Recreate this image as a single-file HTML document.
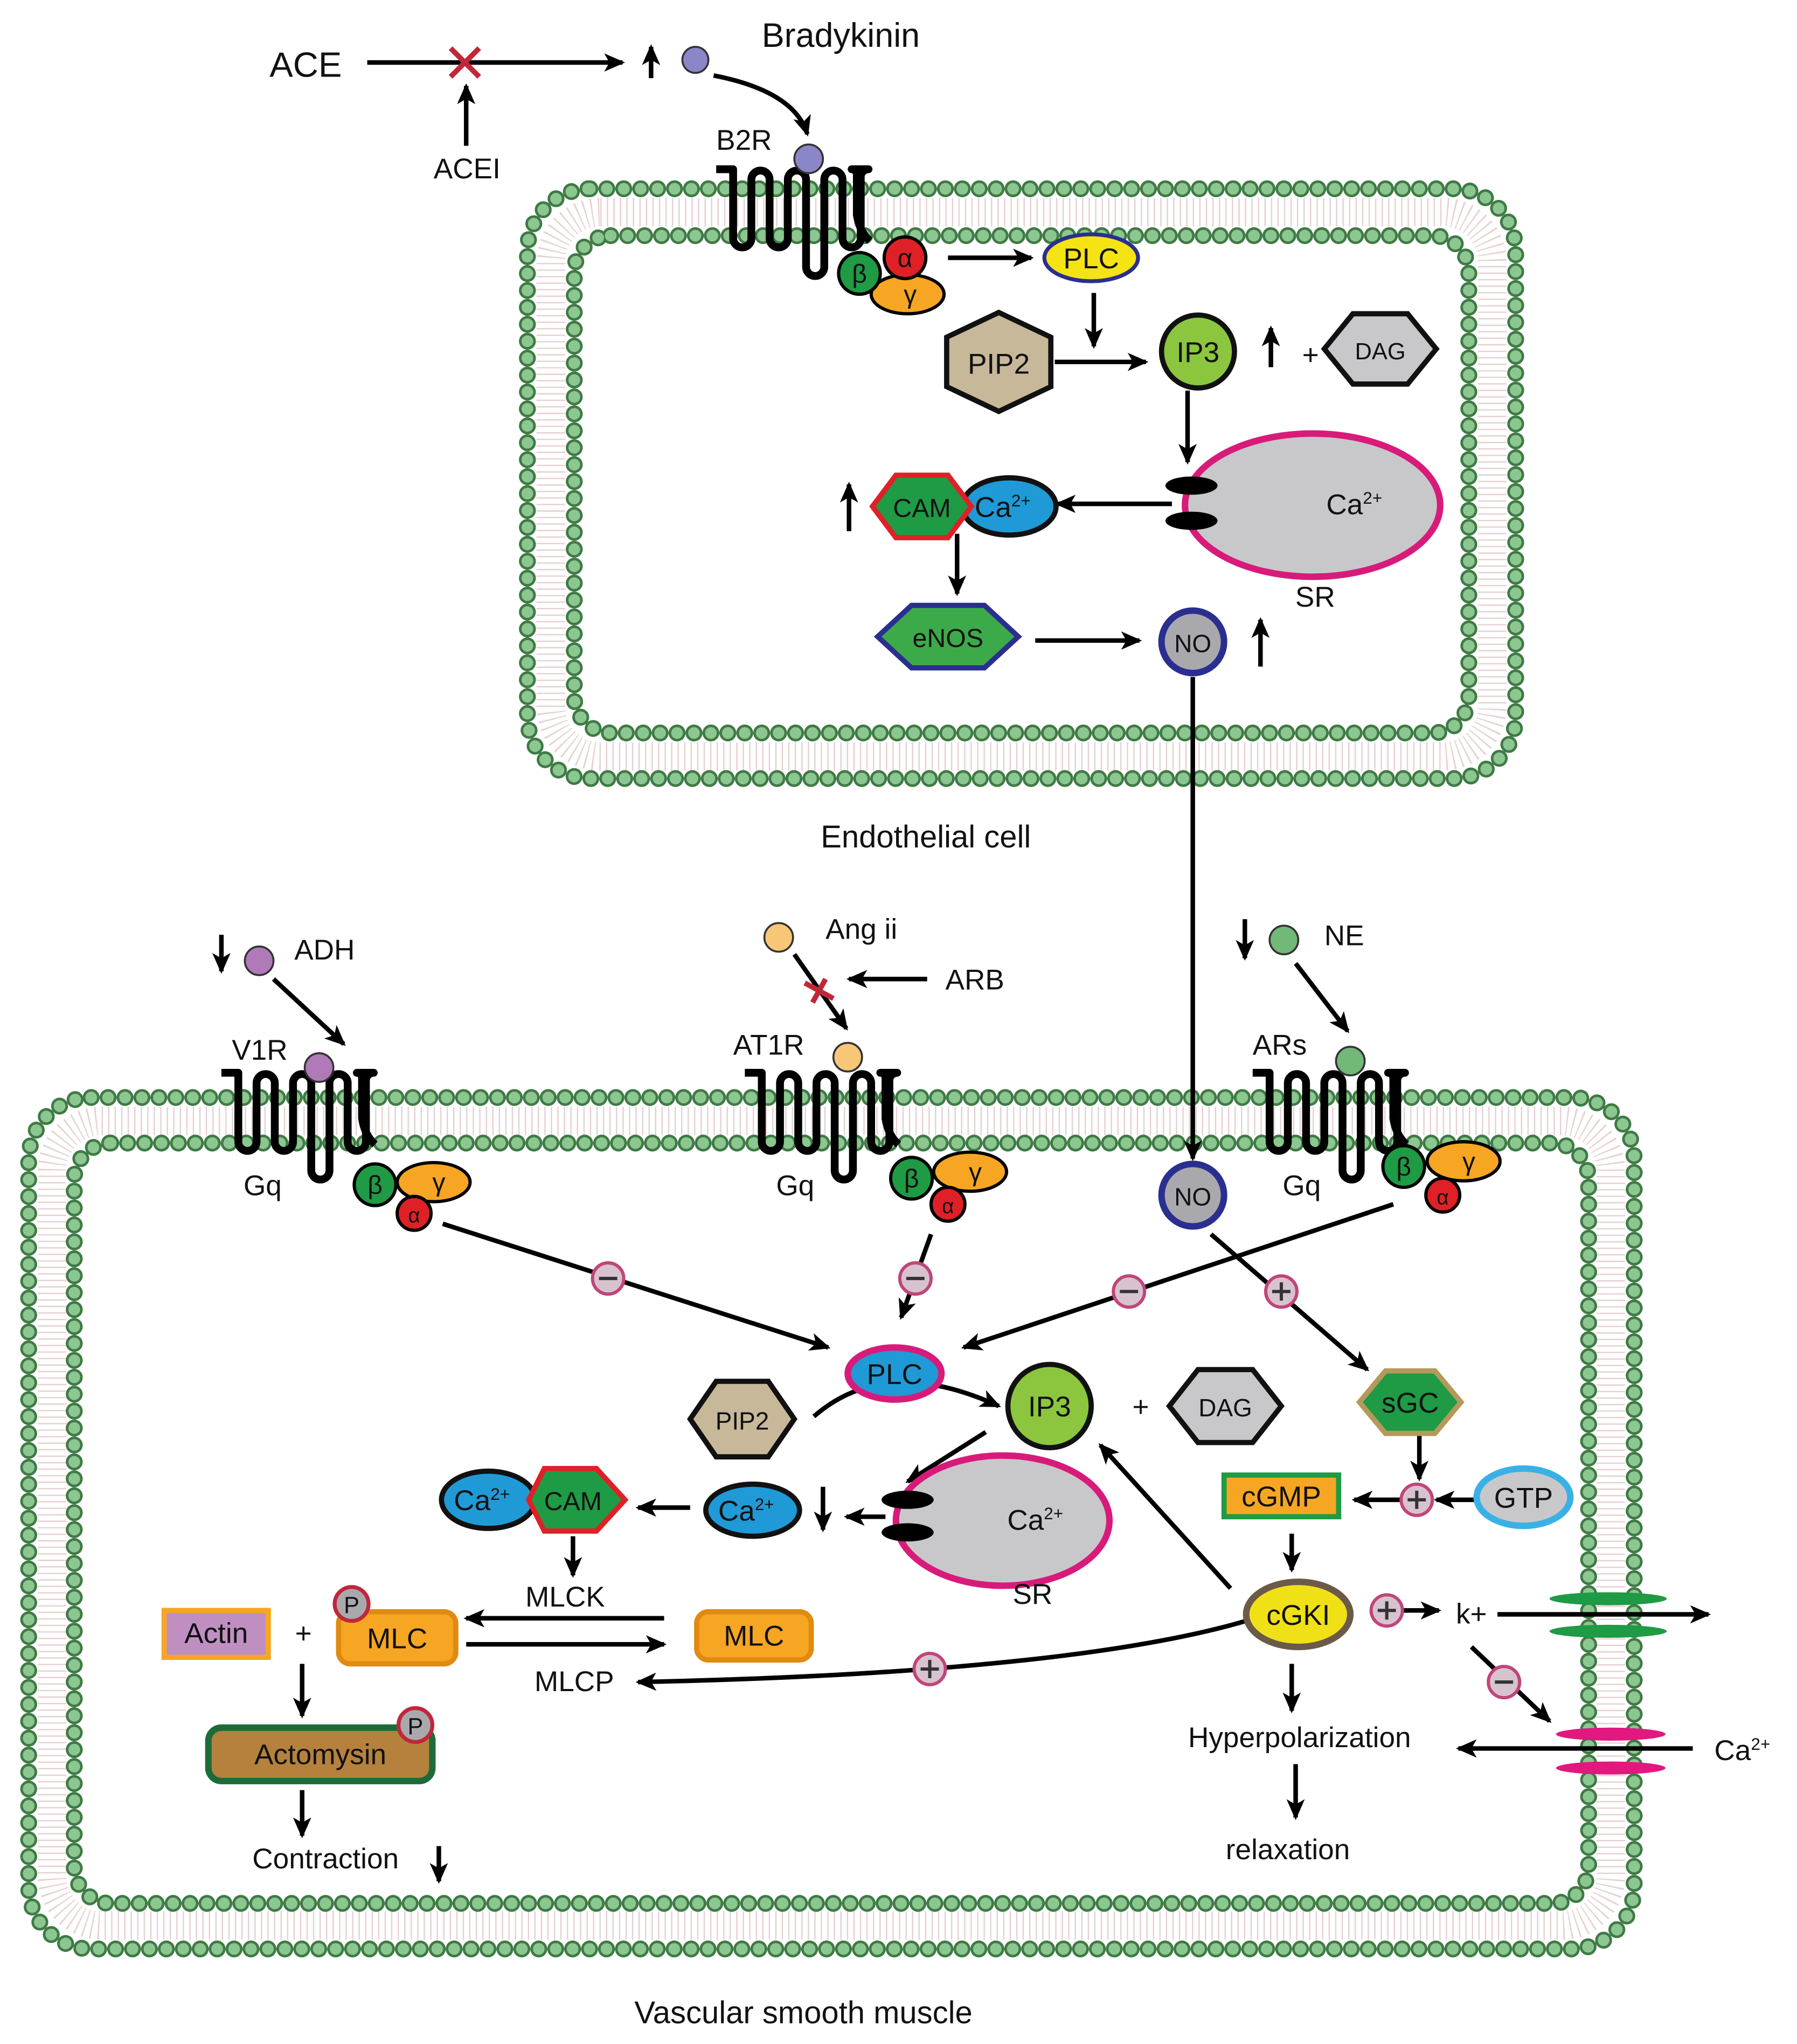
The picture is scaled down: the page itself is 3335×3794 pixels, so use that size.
<!DOCTYPE html>
<html><head><meta charset="utf-8"><style>html,body{margin:0;padding:0;background:#fff}svg{display:block}text{font-family:"Liberation Sans",sans-serif;fill:#111}</style></head><body>
<svg width="3335" height="3794" viewBox="0 0 1380 1570" xmlns="http://www.w3.org/2000/svg">
<defs>
<marker id="a" markerUnits="userSpaceOnUse" markerWidth="16" markerHeight="14" refX="14" refY="7" orient="auto"><path d="M0,0 L16,7 L0,14 L4,7 Z" fill="#000"/></marker>
</defs>
<rect width="1380" height="1570" fill="#fff"/>
<g fill="none">
<rect x="423" y="163" width="723" height="418" rx="38" stroke="#e6d0d0" stroke-width="22" stroke-dasharray="1 4"/>
<rect x="405" y="145" width="759" height="453" rx="48" stroke="#3f7a45" stroke-width="13" stroke-dasharray="0 13" stroke-linecap="round"/>
<rect x="405" y="145" width="759" height="453" rx="48" stroke="#8cc690" stroke-width="9" stroke-dasharray="0 13" stroke-linecap="round"/>
<rect x="441" y="181" width="687" height="382" rx="28" stroke="#3f7a45" stroke-width="13" stroke-dasharray="0 13" stroke-linecap="round"/>
<rect x="441" y="181" width="687" height="382" rx="28" stroke="#8cc690" stroke-width="9" stroke-dasharray="0 13" stroke-linecap="round"/>
<rect x="40" y="861" width="1197" height="618" rx="38" stroke="#e6d0d0" stroke-width="22" stroke-dasharray="1 4"/>
<rect x="22" y="843" width="1233" height="654" rx="48" stroke="#3f7a45" stroke-width="13" stroke-dasharray="0 13" stroke-linecap="round"/>
<rect x="22" y="843" width="1233" height="654" rx="48" stroke="#8cc690" stroke-width="9" stroke-dasharray="0 13" stroke-linecap="round"/>
<rect x="57" y="878" width="1163" height="584" rx="28" stroke="#3f7a45" stroke-width="13" stroke-dasharray="0 13" stroke-linecap="round"/>
<rect x="57" y="878" width="1163" height="584" rx="28" stroke="#8cc690" stroke-width="9" stroke-dasharray="0 13" stroke-linecap="round"/>
</g>
<g id="rec" fill="none" stroke="#000" stroke-width="6" stroke-linejoin="round">
<path d="M550,130 H563 V183 a7,7 0 0 0 14,0 V138 a7,7 0 0 1 14,0 V183 a7,7 0 0 0 14,0 V138 a7,7 0 0 1 14,0 V205 a7,7 0 0 0 14,0 V138 a7,7 0 0 1 14,0 V183 a7,7 0 0 0 14,0 V136 a6,6 0 0 1 6,-6 H654 a4,4 0 0 1 4,4 V165 Q660,178 668,185"/>
</g>
<use href="#rec" transform="translate(-380,694)"/>
<use href="#rec" transform="translate(22,694)"/>
<use href="#rec" transform="translate(412,694)"/>
<g stroke="#000" stroke-width="3.5" fill="none" marker-end="url(#a)">
<line x1="282" y1="48" x2="478" y2="48"/>
<line x1="358" y1="112" x2="358" y2="66"/>
<line x1="500" y1="60" x2="500" y2="36"/>
<path d="M548,58 Q610,70 620,103"/>
<line x1="728" y1="198" x2="792" y2="198"/>
<line x1="840" y1="225" x2="840" y2="266"/>
<line x1="810" y1="278" x2="880" y2="278"/>
<line x1="976" y1="282" x2="976" y2="252"/>
<line x1="912" y1="300" x2="912" y2="355"/>
<line x1="900" y1="387" x2="812" y2="387"/>
<line x1="652" y1="408" x2="652" y2="372"/>
<line x1="735" y1="410" x2="735" y2="456"/>
<line x1="795" y1="492" x2="875" y2="492"/>
<line x1="968" y1="512" x2="968" y2="476"/>
<line x1="916" y1="520" x2="916" y2="890"/>
<line x1="170" y1="718" x2="170" y2="746"/>
<line x1="210" y1="752" x2="264" y2="802"/>
<line x1="610" y1="733" x2="650" y2="790"/>
<line x1="712" y1="752" x2="652" y2="752"/>
<line x1="956" y1="706" x2="956" y2="736"/>
<line x1="995" y1="740" x2="1035" y2="792"/>
<line x1="340" y1="940" x2="636" y2="1035"/>
<line x1="715" y1="948" x2="692" y2="1012"/>
<line x1="1070" y1="925" x2="740" y2="1035"/>
<line x1="930" y1="948" x2="1050" y2="1052"/>
<path d="M625,1088 Q680,1040 767,1080"/>
<line x1="757" y1="1100" x2="697" y2="1138"/>
<line x1="680" y1="1165" x2="650" y2="1165"/>
<line x1="632" y1="1142" x2="632" y2="1175"/>
<line x1="530" y1="1158" x2="490" y2="1158"/>
<line x1="440" y1="1180" x2="440" y2="1210"/>
<line x1="510" y1="1243" x2="358" y2="1243"/>
<line x1="358" y1="1263" x2="510" y2="1263"/>
<line x1="232" y1="1278" x2="232" y2="1318"/>
<line x1="232" y1="1375" x2="232" y2="1410"/>
<line x1="337" y1="1418" x2="337" y2="1445"/>
<line x1="1090" y1="1100" x2="1090" y2="1136"/>
<line x1="1132" y1="1152" x2="1103" y2="1152"/>
<line x1="1075" y1="1152" x2="1040" y2="1152"/>
<line x1="992" y1="1178" x2="992" y2="1206"/>
<line x1="945" y1="1220" x2="845" y2="1110"/>
<path d="M957,1245 Q820,1285 490,1292"/>
<line x1="1077" y1="1237" x2="1105" y2="1237"/>
<line x1="1150" y1="1240" x2="1312" y2="1240"/>
<line x1="1130" y1="1265" x2="1190" y2="1322"/>
<line x1="1300" y1="1343" x2="1120" y2="1343"/>
<line x1="992" y1="1278" x2="992" y2="1314"/>
<line x1="995" y1="1355" x2="995" y2="1396"/>
</g>
<g stroke="#000" stroke-width="3.5"><line x1="935" y1="387" x2="1005" y2="387"/><line x1="720" y1="1165" x2="775" y2="1165"/></g>
<g stroke="#c0273a" stroke-width="4"><line x1="346" y1="37" x2="368" y2="59"/><line x1="368" y1="37" x2="346" y2="59"/><line x1="618" y1="755" x2="640" y2="767"/><line x1="624" y1="770" x2="634" y2="752"/></g>
<g stroke="#333" stroke-width="1.5">
<circle cx="534" cy="46" r="10" fill="#8b86c8"/><circle cx="621" cy="122" r="11" fill="#8b86c8"/>
<circle cx="199" cy="738" r="11" fill="#b07ab8"/><circle cx="245" cy="820" r="11" fill="#b07ab8"/>
<circle cx="598" cy="720" r="11" fill="#f7c777"/><circle cx="651" cy="812" r="11" fill="#f7c777"/>
<circle cx="986" cy="722" r="11" fill="#72b878"/><circle cx="1037" cy="815" r="11" fill="#72b878"/>
</g>
<g stroke="#000" stroke-width="2.5" font-size="22">
<ellipse cx="697" cy="226" rx="28" ry="15" fill="#f6a623"/><circle cx="660" cy="210" r="16" fill="#1f9a45"/><circle cx="695" cy="198" r="16" fill="#e02027"/>
<ellipse cx="333" cy="908" rx="28" ry="15" fill="#f6a623"/><circle cx="318" cy="932" r="13" fill="#e02027"/><circle cx="288" cy="910" r="16" fill="#1f9a45"/>
<ellipse cx="745" cy="900" rx="28" ry="15" fill="#f6a623"/><circle cx="728" cy="925" r="13" fill="#e02027"/><circle cx="700" cy="905" r="16" fill="#1f9a45"/>
<ellipse cx="1124" cy="892" rx="28" ry="15" fill="#f6a623"/><circle cx="1108" cy="918" r="13" fill="#e02027"/><circle cx="1078" cy="896" r="16" fill="#1f9a45"/>
</g>
<g font-size="20" text-anchor="middle">
<text x="660" y="217">β</text><text x="695" y="205">α</text><text x="699" y="233">γ</text>
<text x="288" y="917">β</text><text x="318" y="939" font-size="16">α</text><text x="337" y="915">γ</text>
<text x="700" y="912">β</text><text x="728" y="932" font-size="16">α</text><text x="749" y="907">γ</text>
<text x="1078" y="903">β</text><text x="1108" y="925" font-size="16">α</text><text x="1128" y="899">γ</text>
</g>
<g stroke-width="4">
<ellipse cx="838" cy="198" rx="36" ry="18" fill="#f5e313" stroke="#2a2f8f" stroke-width="3"/>
<polygon points="767,240 807,259 807,297 767,316 727,297 727,259" fill="#c8b89a" stroke="#111"/>
<circle cx="920" cy="270" r="28" fill="#8cc63f" stroke="#111"/>
<polygon points="1039,241 1081,241 1103,268 1081,295 1039,295 1017,268" fill="#c8c8cb" stroke="#111"/>
<ellipse cx="1008" cy="388" rx="98" ry="55" fill="#c8c8cb" stroke="#d81b7a" stroke-width="5"/>
<ellipse cx="915" cy="373" rx="20" ry="7" fill="#000"/><ellipse cx="915" cy="400" rx="20" ry="7" fill="#000"/>
<ellipse cx="775" cy="389" rx="36" ry="22" fill="#1f9ad6" stroke="#111"/>
<polygon points="688,365 728,365 746,389 728,413 688,413 670,389" fill="#1f9a45" stroke="#e02027"/>
<polygon points="700,465 756,465 782,489 756,513 700,513 674,489" fill="#3daa4a" stroke="#2a2f8f"/>
<circle cx="916" cy="493" r="24" fill="#a9a9ad" stroke="#2a2f8f" stroke-width="5"/>
</g>
<g font-size="22" text-anchor="middle">
<text x="838" y="206">PLC</text><text x="767" y="287">PIP2</text><text x="920" y="278">IP3</text><text x="1060" y="276" font-size="18">DAG</text>
<text x="708" y="397" font-size="20">CAM</text><text x="770" y="397">Ca<tspan font-size="13" dy="-8">2+</tspan></text>
<text x="728" y="497" font-size="20" fill="#fff">eNOS</text><text x="916" y="501" font-size="19">NO</text>
<text x="1040" y="395">Ca<tspan font-size="13" dy="-8">2+</tspan></text><text x="1010" y="466">SR</text>
</g>
<g stroke-width="4">
<circle cx="916" cy="918" r="24" fill="#a9a9ad" stroke="#2a2f8f" stroke-width="5"/>
<ellipse cx="687" cy="1055" rx="36" ry="20" fill="#1f9ad6" stroke="#d81b7a" stroke-width="5"/>
<polygon points="550,1061 590,1061 610,1090 590,1119 550,1119 530,1090" fill="#c8b89a" stroke="#111"/>
<circle cx="806" cy="1080" r="32" fill="#8cc63f" stroke="#111"/>
<polygon points="920,1052 962,1052 984,1080 962,1108 920,1108 898,1080" fill="#c8c8cb" stroke="#111"/>
<polygon points="1064,1053 1102,1053 1122,1077 1102,1101 1064,1101 1044,1077" fill="#1f9a45" stroke="#b5995a"/>
<ellipse cx="1170" cy="1150" rx="36" ry="22" fill="#c8c8cb" stroke="#3ab1e6" stroke-width="5"/>
<rect x="940" y="1133" width="88" height="32" fill="#f6a623" stroke="#1f9a45"/>
<ellipse cx="997" cy="1240" rx="40" ry="25" fill="#f0e117" stroke="#6b5a48" stroke-width="5"/>
<ellipse cx="1235" cy="1228" rx="45" ry="5" fill="#1f9a45" stroke="none"/><ellipse cx="1235" cy="1253" rx="45" ry="5" fill="#1f9a45" stroke="none"/>
<ellipse cx="1237" cy="1332" rx="42" ry="5" fill="#e2187e" stroke="none"/><ellipse cx="1237" cy="1358" rx="42" ry="5" fill="#e2187e" stroke="none"/>
<ellipse cx="770" cy="1168" rx="82" ry="50" fill="#c8c8cb" stroke="#d81b7a" stroke-width="5"/>
<ellipse cx="697" cy="1152" rx="20" ry="7" fill="#000"/><ellipse cx="697" cy="1177" rx="20" ry="7" fill="#000"/>
<ellipse cx="578" cy="1160" rx="36" ry="20" fill="#1f9ad6" stroke="#111"/>
<ellipse cx="375" cy="1152" rx="36" ry="22" fill="#1f9ad6" stroke="#111"/>
<polygon points="418,1128 458,1128 480,1152 458,1176 418,1176 406,1152" fill="#1f9a45" stroke="#e02027"/>
<rect x="535" y="1238" width="88" height="37" rx="9" fill="#f6a623" stroke="#e08a10"/>
<rect x="260" y="1238" width="90" height="40" rx="9" fill="#f6a623" stroke="#e08a10"/>
<rect x="126" y="1237" width="80" height="36" fill="#c08fc2" stroke="#f6a623"/>
<rect x="160" y="1327" width="172" height="41" rx="10" fill="#b5813d" stroke="#1d6b3a" stroke-width="5"/>
<circle cx="270" cy="1232" r="13" fill="#a9a9ad" stroke="#c0273a" stroke-width="3"/>
<circle cx="319" cy="1325" r="13" fill="#a9a9ad" stroke="#c0273a" stroke-width="3"/>
</g>
<g fill="#d7c3cf" stroke="#c0457a" stroke-width="2.5">
<circle cx="467" cy="982" r="12"/><circle cx="703" cy="982" r="12"/><circle cx="867" cy="992" r="12"/><circle cx="984" cy="992" r="12"/>
<circle cx="1088" cy="1152" r="12"/><circle cx="1065" cy="1237" r="12"/><circle cx="1155" cy="1292" r="12"/><circle cx="714" cy="1282" r="12"/>
</g>
<g stroke="#333" stroke-width="2.5">
<line x1="460" y1="982" x2="474" y2="982"/><line x1="696" y1="982" x2="710" y2="982"/><line x1="860" y1="992" x2="874" y2="992"/><line x1="1148" y1="1292" x2="1162" y2="1292"/>
<line x1="977" y1="992" x2="991" y2="992"/><line x1="984" y1="985" x2="984" y2="999"/>
<line x1="1081" y1="1152" x2="1095" y2="1152"/><line x1="1088" y1="1145" x2="1088" y2="1159"/>
<line x1="1058" y1="1237" x2="1072" y2="1237"/><line x1="1065" y1="1230" x2="1065" y2="1244"/>
<line x1="707" y1="1282" x2="721" y2="1282"/><line x1="714" y1="1275" x2="714" y2="1289"/>
</g>
<g font-size="22" text-anchor="middle">
<text x="916" y="926" font-size="19">NO</text><text x="687" y="1063">PLC</text><text x="570" y="1098" font-size="19">PIP2</text>
<text x="806" y="1088">IP3</text><text x="876" y="1088">+</text><text x="941" y="1088" font-size="19">DAG</text>
<text x="1083" y="1085">sGC</text><text x="1170" y="1158">GTP</text><text x="984" y="1157">cGMP</text><text x="997" y="1248">cGKI</text>
<text x="795" y="1175">Ca<tspan font-size="13" dy="-8">2+</tspan></text><text x="793" y="1232">SR</text>
<text x="573" y="1168">Ca<tspan font-size="13" dy="-8">2+</tspan></text><text x="370" y="1160">Ca<tspan font-size="13" dy="-8">2+</tspan></text><text x="440" y="1160" font-size="20">CAM</text>
<text x="579" y="1264">MLC</text><text x="305" y="1266">MLC</text><text x="166" y="1262">Actin</text><text x="233" y="1262">+</text>
<text x="270" y="1239" font-size="18">P</text><text x="319" y="1332" font-size="18">P</text>
<text x="246" y="1355">Actomysin</text>
<text x="434" y="1234">MLCK</text><text x="441" y="1299">MLCP</text>
<text x="250" y="1435">Contraction</text>
<text x="998" y="1342">Hyperpolarization</text><text x="989" y="1428">relaxation</text>
<text x="1130" y="1247">k+</text>
<text x="1338" y="1352">Ca<tspan font-size="13" dy="-8">2+</tspan></text>
<text x="617" y="1554" font-size="24">Vascular smooth muscle</text>
<text x="711" y="651" font-size="24">Endothelial cell</text>
</g>
<g font-size="22">
<text x="207" y="59" font-size="27">ACE</text><text x="333" y="137">ACEI</text><text x="585" y="36" font-size="26">Bradykinin</text>
<text x="550" y="115">B2R</text><text x="1000" y="280">+</text>
<text x="226" y="737">ADH</text><text x="178" y="814">V1R</text><text x="187" y="918">Gq</text>
<text x="634" y="721">Ang ii</text><text x="726" y="760">ARB</text><text x="563" y="810">AT1R</text><text x="596" y="918">Gq</text>
<text x="1017" y="726">NE</text><text x="962" y="810">ARs</text><text x="985" y="918">Gq</text>
</g>
</svg>
</body></html>
